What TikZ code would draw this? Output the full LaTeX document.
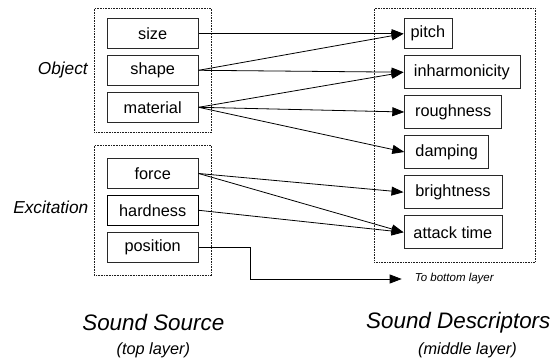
\documentclass[tikz,border=0pt]{standalone}
\usepackage{fontspec}
\setmainfont{Liberation Sans}
\usepackage{xcolor}
\definecolor{frame-dark}{RGB}{40,40,40}
\definecolor{group-line}{RGB}{30,30,30}
\usepackage{tikz}
\usetikzlibrary{arrows.meta,positioning}

\begin{document}
\begin{tikzpicture}[
    x=1pt, y=-1pt,
    every node/.style={inner sep=0pt},
    srcbox/.style={draw=frame-dark, line width=0.8pt, minimum width=91pt, minimum height=30pt, font=\fontsize{16.3}{19}\selectfont},
    descbox/.style={draw=frame-dark, line width=0.8pt, minimum height=33pt, anchor=west, font=\fontsize{16.3}{19}\selectfont},
    groupbox/.style={draw=group-line, densely dotted, line width=0.6pt},
    grouplabel/.style={anchor=east, font=\fontsize{17.3}{20}\selectfont\itshape},
    link/.style={draw=black, line width=0.8pt, -{Triangle[length=12pt,width=9pt]}}
]

\useasboundingbox (0,0) rectangle (558,363);

% Dotted group frames
\node[groupbox, minimum width=117pt, minimum height=124pt] (objgroup) at (152.8,70.3) {};
\node[groupbox, minimum width=117pt, minimum height=130.4pt] (excgroup) at (152.8,210.5) {};
\node[groupbox, minimum width=160.7pt, minimum height=254pt] (descgroup) at (454.6,135.3) {};

% Group labels
\node[grouplabel] (objlabel) at (88,70) {Object};
\node[grouplabel] (exclabel) at (88.5,207) {Excitation};

% Sound source parameters
\node[srcbox] (size) at (152.7,33.7) {size};
\node[srcbox] (shape) at (152.7,70.3) {shape};
\node[srcbox] (material) at (152.7,107.3) {material};
\node[srcbox] (force) at (152.7,173.5) {force};
\node[srcbox, line width=1pt, draw=black] (hardness) at (152.7,210.3) {hardness};
\node[srcbox] (position) at (152.7,247.3) {position};

% Sound descriptors
\node[descbox, minimum width=48pt, minimum height=30pt] (pitch) at (403.5,33.7) {pitch};
\node[descbox, minimum width=116pt] (inharm) at (403.5,72.2) {inharmonicity};
\node[descbox, minimum width=97pt] (rough) at (404.3,112) {roughness};
\node[descbox, minimum width=84pt] (damp) at (404.3,152) {damping};
\node[descbox, minimum width=98pt] (bright) at (403.5,192.2) {brightness};
\node[descbox, minimum width=98pt] (attack) at (403.5,232.3) {attack time};

% Mappings
\draw[link] (size.east) -- (pitch.west);
\draw[link] (shape.east) -- (pitch.west);
\draw[link] (shape.east) -- (inharm.west);
\draw[link] (material.east) -- (inharm.west);
\draw[link] (material.east) -- (rough.west);
\draw[link] (material.east) -- (damp.west);
\draw[link] (force.east) -- (bright.west);
\draw[link] (force.east) -- (attack.west);
\draw[link] (hardness.east) -- (attack.west);

% Position goes down to the next layer
\coordinate (bend) at (250.7,279);
\coordinate (tobottom) at (401.7,279);
\node[right=13pt of tobottom, anchor=west, font=\fontsize{11.5}{13}\selectfont\itshape] (bottomtxt) {To bottom layer};
\draw[link] (position.east) -| (bend) -- (tobottom);

% Layer titles
\node[font=\fontsize{22.4}{26}\selectfont\itshape] (srctitle) at (153.3,323) {Sound Source};
\node[font=\fontsize{16.3}{19}\selectfont\itshape] (srcsub) at (153.3,350) {(top layer)};
\node[font=\fontsize{22.4}{26}\selectfont\itshape] (desctitle) at (458.3,323) {Sound Descriptors};
\node[font=\fontsize{16.3}{19}\selectfont\itshape] (descsub) at (467.5,350) {(middle layer)};

\end{tikzpicture}
\end{document}
